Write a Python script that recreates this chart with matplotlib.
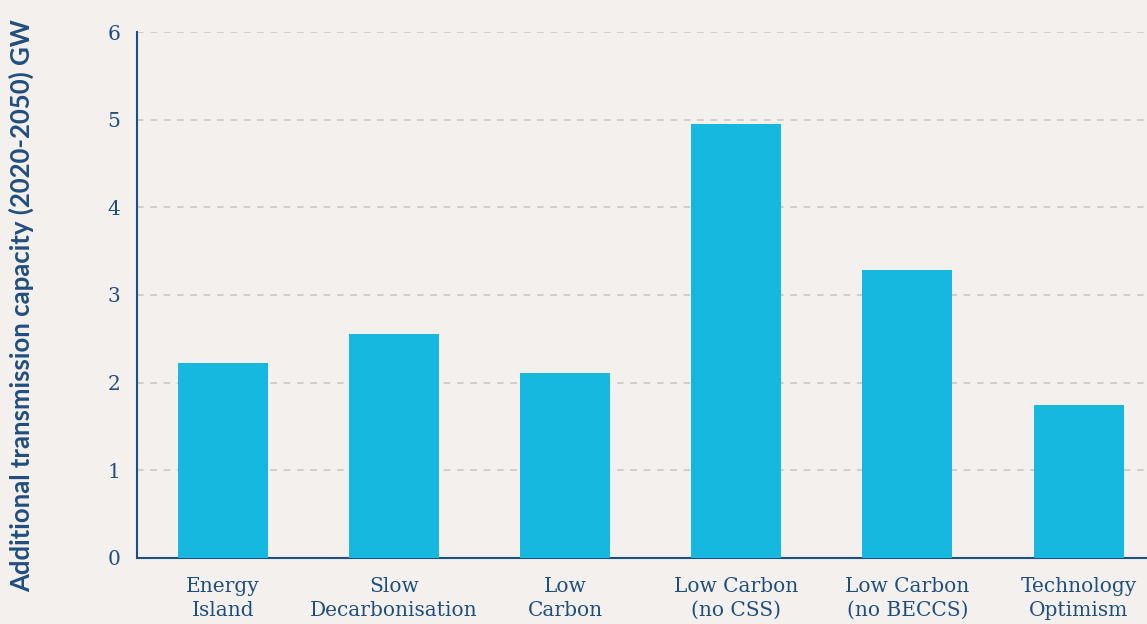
import matplotlib
matplotlib.use("Agg")
import matplotlib.pyplot as plt
import numpy as np

# Data
categories = ["Energy\nIsland", "Slow\nDecarbonisation", "Low\nCarbon",
              "Low Carbon\n(no CSS)", "Low Carbon\n(no BECCS)", "Technology\nOptimism"]
capacity_gw = [2.22, 2.56, 2.11, 4.95, 3.28, 1.74]
y_ticks = [0, 1, 2, 3, 4, 5, 6]

bg = "#f3f0ed"
bar_color = "#17b8df"
text_color = "#1f4e80"
axis_color = "#1a4f8c"

fig = plt.figure(figsize=(11.47, 6.24), dpi=100, facecolor=bg)
ax = fig.add_axes([0.1194, 0.1058, 0.8806, 0.8429])
ax.set_facecolor(bg)

x = np.arange(len(categories))
ax.bar(x, capacity_gw, width=0.526, color=bar_color, zorder=3)

ax.set_xlim(-0.503, 5.40)
ax.set_ylim(0, 6)
ax.set_yticks(y_ticks)
ax.set_xticks(x)
ax.set_xticklabels(categories, fontsize=14.5, color=text_color,
                   family="DejaVu Serif", linespacing=1.3)
ax.set_yticklabels([str(t) for t in y_ticks], fontsize=14.5, color=text_color,
                   family="DejaVu Serif")
ax.tick_params(axis="both", length=0)
ax.tick_params(axis="y", pad=12)
ax.tick_params(axis="x", pad=14)

# dashed gridlines, skip the baseline
for t in y_ticks[1:]:
    ax.axhline(t, color="#cbc8c5", linestyle=(0, (4, 4)), linewidth=1.2, zorder=1)

for s in ["top", "right"]:
    ax.spines[s].set_visible(False)
for s in ["left", "bottom"]:
    ax.spines[s].set_color(axis_color)
    ax.spines[s].set_linewidth(1.5)

fig.text(0.019, 0.51, "Additional transmission capacity (2020-2050) GW",
         rotation=90, ha="center", va="center", fontsize=18.5,
         fontweight="bold", color=text_color, family="Lato")

fig.savefig("out.png", dpi=100, facecolor=bg)
